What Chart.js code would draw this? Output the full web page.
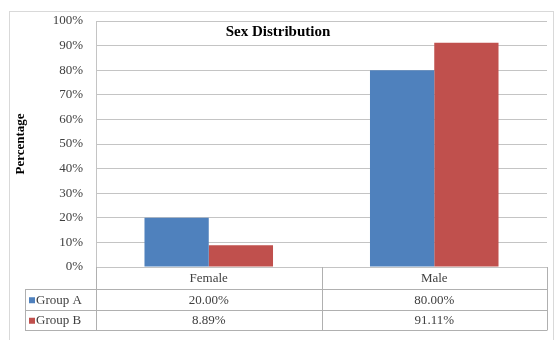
<!DOCTYPE html>
<html>
<head>
<meta charset="utf-8">
<script src="https://cdn.jsdelivr.net/npm/chart.js@4"></script>
<style>
  body { margin: 0; background: #fff; }
  #wrap { width: 558px; height: 340px; position: relative; }
</style>
</head>
<body>
<div id="wrap"><canvas id="myChart" width="558" height="340"></canvas></div>
<script>
// data
const categories = ['Female', 'Male'];
const groupA = [20.00, 80.00];
const groupB = [8.89, 91.11];
const seriesNames = ['Group A', 'Group B'];
const yTicks = [0, 10, 20, 30, 40, 50, 60, 70, 80, 90, 100];
const chartTitle = 'Sex Distribution';

const blue = '#4F81BD';
const red = '#C0504D';
const lineGrey = '#c4c4c4';
const serif = '"Liberation Serif", "Times New Roman", serif';

// frame, title inside plot, and the data table under the plot
const tablePlugin = {
	id: 'dataTable',
	beforeDraw(chart) {
		const ctx = chart.ctx;
		ctx.save();
		ctx.strokeStyle = '#d9d9d9';
		ctx.lineWidth = 1;
		ctx.strokeRect(9.5, 11.5, 544, 340);
		ctx.restore();
	},
	afterDraw(chart) {
		const ctx = chart.ctx;
		const x = chart.scales.x;
		const area = chart.chartArea;
		const rowH = 20.5;
		const top = area.bottom;
		const r1 = top + 22;
		const r2 = r1 + rowH;
		const r3 = r2 + rowH;
		const legendLeft = 25;
		ctx.save();

		// title
		ctx.fillStyle = '#000';
		ctx.font = 'bold 15px ' + serif;
		ctx.textAlign = 'center';
		ctx.textBaseline = 'middle';
		ctx.fillText(chartTitle, 278, area.top + 11);

		ctx.strokeStyle = '#b0b0b0';
		ctx.lineWidth = 1;
		// horizontal lines
		[r1, r2, r3].forEach(y => {
			ctx.beginPath();
			ctx.moveTo(legendLeft, Math.round(y) + 0.5);
			ctx.lineTo(area.right, Math.round(y) + 0.5);
			ctx.stroke();
		});
		// vertical lines
		const half = (x.getPixelForValue(1) - x.getPixelForValue(0)) / 2;
		const cols = [area.left, x.getPixelForValue(0) + half, area.right];
		cols.forEach(cx => {
			ctx.beginPath();
			ctx.moveTo(Math.round(cx) + 0.5, top);
			ctx.lineTo(Math.round(cx) + 0.5, Math.round(r3) + 0.5);
			ctx.stroke();
		});
		ctx.beginPath();
		ctx.moveTo(legendLeft + 0.5, Math.round(r1));
		ctx.lineTo(legendLeft + 0.5, Math.round(r3) + 0.5);
		ctx.stroke();

		ctx.fillStyle = '#404040';
		ctx.font = '13px ' + serif;
		categories.forEach((c, i) => {
			const cx = x.getPixelForValue(i);
			ctx.fillText(c, cx, (top + r1) / 2 + 1);
			ctx.fillText(groupA[i].toFixed(2) + '%', cx, (r1 + r2) / 2 + 1);
			ctx.fillText(groupB[i].toFixed(2) + '%', cx, (r2 + r3) / 2 + 1);
		});
		// legend keys
		const rows = [(r1 + r2) / 2, (r2 + r3) / 2];
		[blue, red].forEach((col, i) => {
			ctx.fillStyle = col;
			ctx.fillRect(29, rows[i] - 2, 6, 6);
			ctx.fillStyle = '#404040';
			ctx.textAlign = 'left';
			ctx.fillText(seriesNames[i], 36, rows[i] + 1);
		});
		ctx.restore();
	}
};

const data = {
	labels: categories,
	datasets: [{
		label: seriesNames[0],
		data: groupA,
		backgroundColor: blue,
		borderWidth: 0
	},
	{
		label: seriesNames[1],
		data: groupB,
		backgroundColor: red,
		borderWidth: 0
	}]
};

const config = {
	type: 'bar',
	data,
	plugins: [tablePlugin],
	options: {
		responsive: false,
		animation: false,
		events: [],
		categoryPercentage: 0.57,
		barPercentage: 1.0,
		layout: {
			padding: { left: 10, top: 21, right: 11, bottom: 73 }
		},
		plugins: {
			legend: { display: false },
			tooltip: { enabled: false },
			title: { display: false }
		},
		scales: {
			x: {
				display: false
			},
			y: {
				min: 0,
				max: 100,
				afterFit: s => { s.width = 86; },
				afterBuildTicks: s => { s.ticks = yTicks.map(v => ({ value: v })); },
				border: { display: true, color: lineGrey },
				grid: { color: lineGrey, drawTicks: false },
				ticks: {
					padding: 13,
					color: '#404040',
					font: { family: serif, size: 13 },
					callback: v => v + '%'
				},
				title: {
					display: true,
					text: 'Percentage',
					color: '#000',
					font: { family: serif, size: 13, weight: 'bold' },
					padding: { top: 3, bottom: 0 }
				}
			}
		}
	}
};

const myChart = new Chart(document.getElementById('myChart'), config);
</script>
</body>
</html>
